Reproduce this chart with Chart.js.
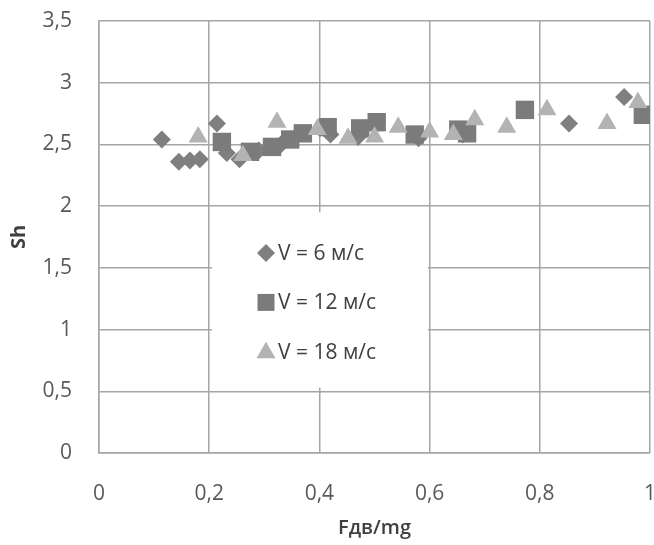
<!DOCTYPE html>
<html>
<head>
<meta charset="utf-8">
<script src="https://cdn.jsdelivr.net/npm/chart.js@4.4.1/dist/chart.umd.min.js"></script>
<style>
html,body{margin:0;padding:0;background:#fff;}
#wrap{width:654px;height:545px;position:relative;}
</style>
</head>
<body>
<div id="wrap"><canvas id="c" width="654" height="545"></canvas></div>
<script>
// ---- data ----
const seriesNames = ['V = 6 м/с', 'V = 12 м/с', 'V = 18 м/с'];
const v6x  = [0.114, 0.145, 0.165, 0.183, 0.214, 0.232, 0.255, 0.29, 0.33, 0.42, 0.47, 0.58, 0.66, 0.853, 0.953];
const v6y  = [2.54, 2.36, 2.37, 2.38, 2.67, 2.43, 2.38, 2.45, 2.50, 2.58, 2.56, 2.55, 2.58, 2.67, 2.885];
const v12x = [0.223, 0.274, 0.314, 0.347, 0.37, 0.415, 0.474, 0.504, 0.573, 0.652, 0.668, 0.773, 0.987];
const v12y = [2.52, 2.44, 2.48, 2.54, 2.59, 2.64, 2.63, 2.68, 2.58, 2.62, 2.59, 2.78, 2.74];
const v18x = [0.18, 0.261, 0.323, 0.396, 0.452, 0.50, 0.543, 0.60, 0.643, 0.682, 0.74, 0.813, 0.922, 0.978];
const v18y = [2.56, 2.41, 2.68, 2.62, 2.55, 2.56, 2.64, 2.60, 2.58, 2.70, 2.64, 2.78, 2.67, 2.84];
const xTickLabels = ['0', '0,2', '0,4', '0,6', '0,8', '1'];
const yTickLabels = ['0', '0,5', '1', '1,5', '2', '2,5', '3', '3,5'];
const xTitle = 'Fдв/mg';
const yTitle = 'Sh';

function pts(xs, ys){ return xs.map((x,i)=>({x:x, y:ys[i]})); }

const FONT = '"Open Sans", Lato, sans-serif';
const styles = [
  {pointStyle:'rectRot', radius:9,  color:'#7f7f7f'},
  {pointStyle:'rect',    radius:13, color:'#7b7b7b'},
  {pointStyle:'triangle',radius:11, color:'#b3b3b3'}
];

const legendPlugin = {
  id:'boxLegend',
  afterDatasetsDraw(chart){
    const ctx = chart.ctx;
    const xs = chart.scales.x, ys = chart.scales.y;
    const left = xs.getPixelForValue(0.205), right = xs.getPixelForValue(0.597);
    const top = ys.getPixelForValue(1.95), bottom = ys.getPixelForValue(0.53);
    ctx.save();
    ctx.fillStyle = '#ffffff';
    ctx.fillRect(left, top, right-left, bottom-top);
    const rows = [ys.getPixelForValue(1.62), ys.getPixelForValue(1.22), ys.getPixelForValue(0.82)];
    const sizes = [9, 12, 11];
    ctx.font = '21px ' + FONT;
    ctx.textBaseline = 'middle';
    ctx.textAlign = 'left';
    seriesNames.forEach((name,i)=>{
      const st = styles[i];
      ctx.fillStyle = st.color;
      ctx.strokeStyle = st.color;
      Chart.helpers.drawPoint(ctx, {pointStyle: st.pointStyle, radius: sizes[i], borderWidth: 0, rotation: 0}, 266, rows[i] + (i===2?1:0));
      ctx.fillStyle = '#404040';
      ctx.fillText(name, 278, rows[i] + 1);
    });
    ctx.restore();
  }
};

const mk = (i, xs, ys, order) => ({
  label: seriesNames[i],
  data: pts(xs, ys),
  pointStyle: styles[i].pointStyle,
  pointRadius: styles[i].radius,
  pointHoverRadius: styles[i].radius,
  pointBackgroundColor: styles[i].color,
  pointBorderColor: styles[i].color,
  pointBorderWidth: 0,
  showLine: false,
  order: order
});

function zeroPad(s){ s.paddingLeft = 0; s.paddingRight = 0; s.paddingTop = 0; s.paddingBottom = 0; }

new Chart(document.getElementById('c'), {
  type: 'scatter',
  data: {
    datasets: [ mk(0, v6x, v6y, 2), mk(1, v12x, v12y, 1), mk(2, v18x, v18y, 0) ]
  },
  options: {
    responsive: false,
    animation: false,
    layout: { autoPadding: false, padding: { top: 21, right: 4, left: 0, bottom: 0 } },
    plugins: { legend: { display: false }, tooltip: { enabled: false } },
    scales: {
      x: {
        type: 'linear', min: 0, max: 1,
        afterBuildTicks(s){ s.ticks = xTickLabels.map((_,i)=>({value: i*0.2})); },
        afterFit(s){ s.height = 92; zeroPad(s); },
        grid: { color:'#a6a6a6', lineWidth:1.5, drawTicks:false },
        border: { color:'#a6a6a6', width:1.5 },
        ticks: { padding: 28, color:'#595959', font:{family:FONT, size:21}, maxRotation:0,
                 callback(v, idx){ return xTickLabels[idx]; } },
        title: { display:true, text:xTitle, color:'#404040', font:{family:FONT, size:20, weight:'600'}, padding:{top:0,bottom:5} }
      },
      y: {
        type: 'linear', min: 0, max: 3.5,
        afterBuildTicks(s){ s.ticks = yTickLabels.map((_,i)=>({value: i*0.5})); },
        afterFit(s){ s.width = 99; zeroPad(s); },
        grid: { color:'#a6a6a6', lineWidth:1.5, drawTicks:false },
        border: { color:'#a6a6a6', width:1.5 },
        ticks: { padding: 27, color:'#595959', font:{family:FONT, size:21},
                 callback(v, idx){ return yTickLabels[idx]; } },
        title: { display:true, text:yTitle, color:'#404040', font:{family:FONT, size:20, weight:'bold'}, padding:{top:7,bottom:0} }
      }
    }
  },
  plugins: [legendPlugin]
});
</script>
</body>
</html>
